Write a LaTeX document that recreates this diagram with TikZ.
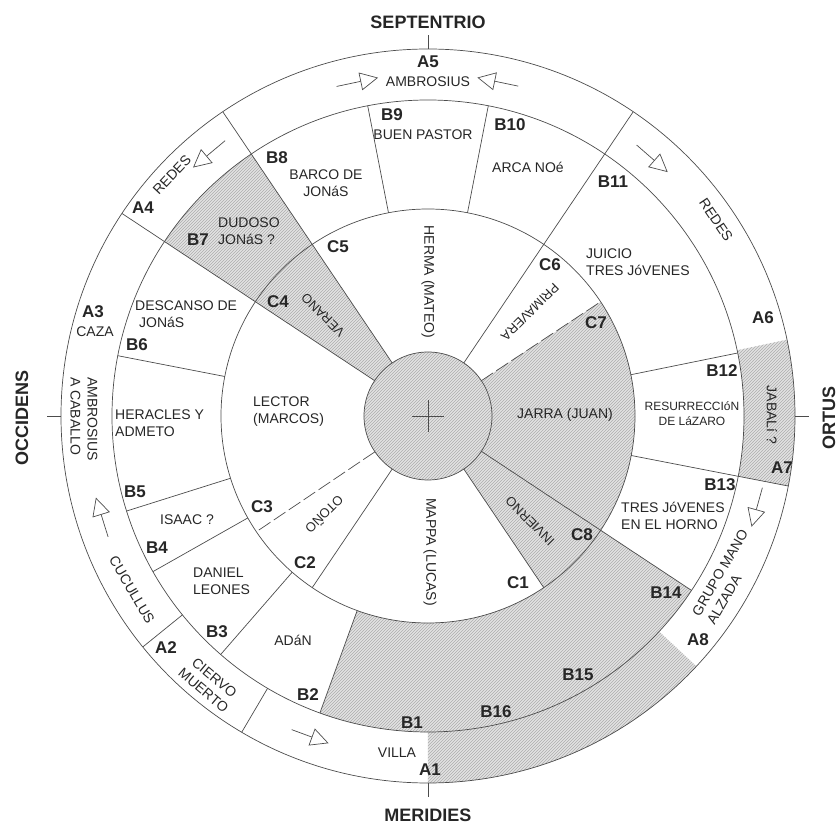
\documentclass[tikz,border=0pt]{standalone}
\usepackage{fontspec}
\setmainfont{Liberation Sans}
\usetikzlibrary{arrows.meta,patterns}

\tikzset{
  ln/.style={line width=0.7pt, draw=black!70},
  hatch/.style={fill=black!11, postaction={pattern=north east lines, pattern color=black!32}},
  code/.style={font=\fontsize{17}{17}\selectfont\bfseries, text=black!85, inner sep=0pt},
  txt/.style={font=\fontsize{14}{17}\selectfont, text=black!85, inner sep=0pt, align=left},
  season/.style={font=\fontsize{13}{15}\selectfont, text=black!85, inner sep=0pt},
  wind/.style={font=\fontsize{18}{18}\selectfont\bfseries, text=black!85, inner sep=0pt},
  flow/.style={line width=0.7pt, draw=black!70, -{Triangle[open, length=18pt, width=18pt]}},
}
\newcommand{\ringpart}[4]{(#1:#3pt) arc[start angle=#1, end angle=#2, radius=#3pt] -- (#2:#4pt) arc[start angle=#2, end angle=#1, radius=#4pt] -- cycle}

\begin{document}
\begin{tikzpicture}[x=1pt, y=1pt]
        \useasboundingbox (-428,-410) rectangle (410,416);
        % shaded parts
        \path[hatch] \ringpart{124}{146.5}{64}{316};
        \path[hatch] \ringpart{-56}{33.5}{64}{207};
        \path[hatch] \ringpart{-110}{-33.5}{207}{316};
        \path[hatch] \ringpart{-11}{12}{316}{367};
        \path[hatch] \ringpart{-90}{-43}{316}{367};
        \path[hatch] (0,0) circle[radius=64pt];
        % rings
        \draw[ln] (0,0) circle[radius=64pt] circle[radius=207pt] circle[radius=316pt] circle[radius=367pt];
        \draw[ln, line width=0.5pt] (-16,0) -- (16,0) (0,-16) -- (0,16);
        % lines
        \foreach \a in {124,146.5,56} \draw[ln] (\a:64pt) -- (\a:367pt);
        \draw[ln] (-33.5:64pt) -- (-33.5:316pt);
        \foreach \a in {-56,-124} \draw[ln] (\a:64pt) -- (\a:207pt);
        \foreach \a in {33.5,-146} \draw[ln, dash pattern=on 14pt off 4pt] (\a:64pt) -- (\a:207pt);
        \foreach \a in {11.5,79,101,169,-162.5,-150.5,-131,-110} \draw[ln] (\a:207pt) -- (\a:316pt);
        \draw[ln] (-11:207pt) -- (-11:367pt);
        \foreach \a in {-120.5,-141} \draw[ln] (\a:316pt) -- (\a:367pt);
        \foreach \a in {0,90,180,270} \draw[ln] (\a:367pt) -- (\a:381pt);
        % arrows
        \foreach \s/\e in {105.5/98.4, 74.7/81.7, 126.4/133.4, 52.4/45.5, -12.1/-18.9, -159.3/-166.2, -113.5/-106.9}
          \draw[flow] (\s:342pt) -- (\e:342pt);
        % codes
        \foreach \n/\x/\y in {A1/2/-354, A2/-262/-232, A3/-335/104, A4/-285/208, A5/0/354, A6/335/98, A7/354/-52, A8/270/-224,
          B1/-16/-307, B2/-120/-279, B3/-211/-216, B4/-271/-132, B5/-293/-76, B6/-291/71, B7/-230/176, B8/-151/258,
          B9/-36/301, B10/82/291, B11/185/234, B12/294/45, B13/292/-69, B14/238/-177, B15/150/-259, B16/68/-296,
          C1/90/-167, C2/-123/-147, C3/-166/-91, C4/-150/114, C5/-90/169, C6/122/151, C7/168/93, C8/154/-119}
          \node[code] (\n) at (\x,\y) {\n};
        % outer ring
        \node[txt] (ambrosius) at (0,334) {AMBROSIUS};
        \node[txt, rotate=46.7] (redesw) at (-256,241) {REDES};
        \node[txt] (caza) at (-333,84) {CAZA};
        \node[txt, rotate=-90, anchor=west] (caballo) at (-344,39) {AMBROSIUS\\A CABALLO};
        \node[txt, rotate=-59.5] (cucullus) at (-296,-174) {CUCULLUS};
        \node[txt, rotate=-40, align=center] (ciervo) at (-219,-268) {CIERVO\\MUERTO};
        \node[txt] (villa) at (-31,-337) {VILLA};
        \node[txt, rotate=60, anchor=west] (grupo) at (275,-203) {GRUPO MANO\\ALZADA};
        \node[txt, rotate=-90] (jabali) at (344,1) {JABALí ?};
        \node[txt, rotate=-56] (redese) at (288,196) {REDES};
        % middle ring
        \node[txt, align=center] (barco) at (-102,233) {BARCO DE\\JONáS};
        \node[txt] (pastor) at (-5,281) {BUEN PASTOR};
        \node[txt] (arca) at (100,249) {ARCA NOé};
        \node[txt, anchor=west] (juicio) at (158,154) {JUICIO\\TRES JóVENES};
        \node[txt, align=center, font=\fontsize{12}{15}\selectfont] (lazaro) at (264,2) {RESURRECCIóN\\DE LáZARO};
        \node[txt, anchor=west] (horno) at (193,-100) {TRES JóVENES\\EN EL HORNO};
        \node[txt] (adan) at (-135,-224) {ADáN};
        \node[txt, anchor=west] (daniel) at (-235,-165) {DANIEL\\LEONES};
        \node[txt] (isaac) at (-241,-104) {ISAAC ?};
        \node[txt, anchor=west] (heracles) at (-313,-7) {HERACLES Y\\ADMETO};
        \node[txt, anchor=west] (descanso) at (-293,102) {DESCANSO DE\\\hspace{4pt}JONáS};
        \node[txt, anchor=west] (dudoso) at (-210,185) {DUDOSO\\JONáS ?};
        % inner ring
        \node[txt, rotate=-90] (herma) at (0,134) {HERMA (MATEO)};
        \node[txt, anchor=west] (lector) at (-175,4) {LECTOR\\(MARCOS)};
        \node[txt] (jarra) at (137,1) {JARRA (JUAN)};
        \node[txt, rotate=-90] (mappa) at (2,-136) {MAPPA (LUCAS)};
        \node[season, rotate=135] (verano) at (-105,101) {VERANO};
        \node[season, rotate=225] (primavera) at (102,104) {PRIMAVERA};
        \node[season, rotate=225] (otono) at (-103,-99) {OTOÑO};
        \node[season, rotate=135] (invierno) at (102,-105) {INVIERNO};
        % winds
        \node[wind] (sept) at (0,394) {SEPTENTRIO};
        \node[wind] (meri) at (0,-399) {MERIDIES};
        \node[wind, rotate=90] (ortus) at (401,-2) {ORTUS};
        \node[wind, rotate=90] (occi) at (-406,-2) {OCCIDENS};
\end{tikzpicture}
\end{document}
